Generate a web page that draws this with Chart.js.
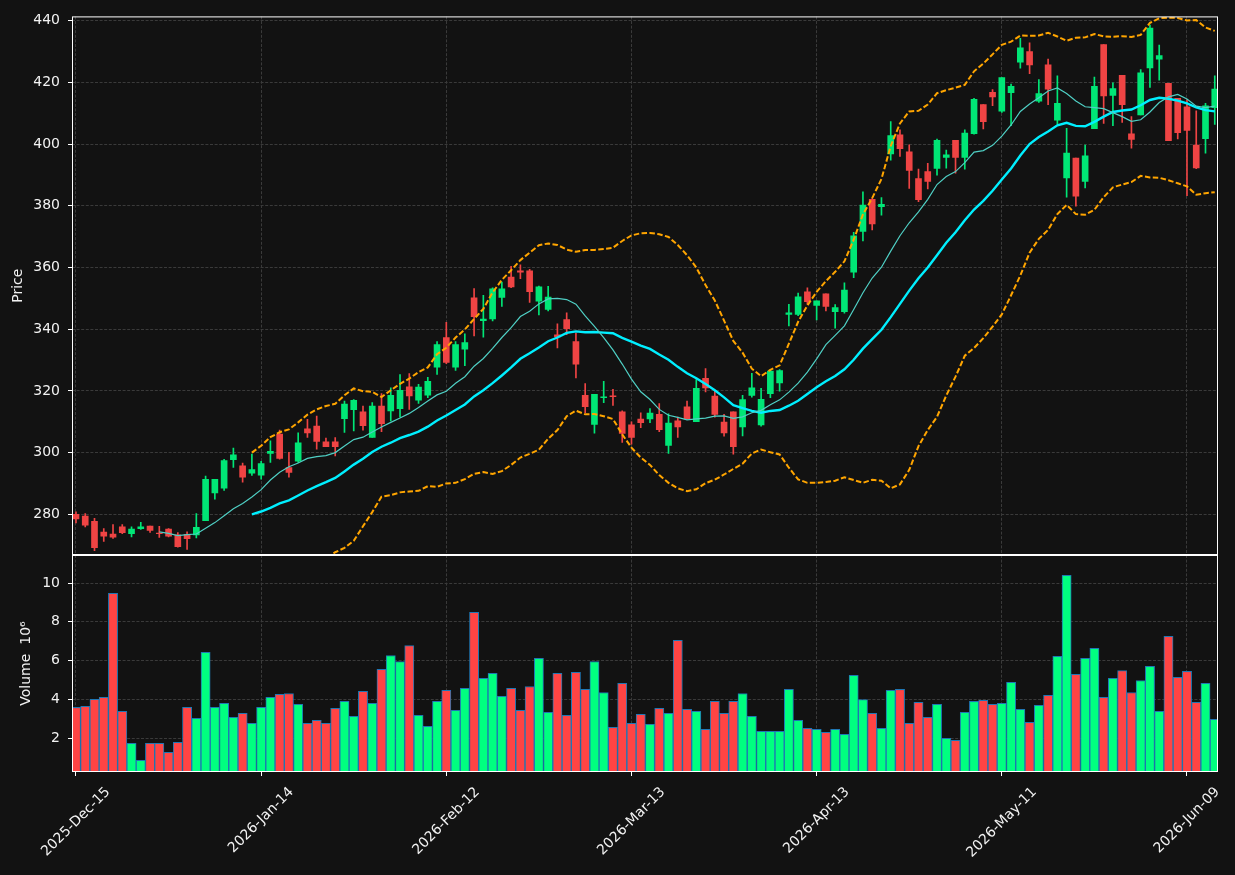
<!DOCTYPE html>
<html>
<head>
<meta charset="utf-8">
<title>Price / Volume</title>
<script src="https://cdn.jsdelivr.net/npm/chart.js"></script>
<style>
  html, body { margin: 0; padding: 0; background: #121212; }
  #wrap { position: relative; width: 1235px; height: 875px; }
  #wrap canvas { position: absolute; left: 0; top: 0; }
</style>
</head>
<body>
<div id="wrap">
  <canvas id="priceChart" width="1235" height="875"></canvas>
  <canvas id="volChart" width="1235" height="875"></canvas>
</div>
<script>
// daily bars, 2025-12-15 .. 2026-06-12 (trading days only), index 0..123
const opens = [280.0,279.4,277.7,274.2,273.6,275.9,273.7,275.3,276.2,273.9,275.2,273.3,273.5,273.3,277.9,286.9,288.5,297.7,295.7,293.3,
  292.7,299.7,306.0,295.1,297.2,307.7,308.6,303.5,303.5,311.0,313.9,313.2,304.9,315.1,313.5,314.2,321.3,317.0,318.6,327.7,
  337.3,327.7,333.5,350.2,342.8,343.3,350.3,356.9,358.9,358.9,349.1,346.4,338.2,343.1,336.0,318.6,309.1,317.8,318.4,313.2,
  309.0,310.9,310.9,312.4,302.3,310.3,314.8,310.0,324.1,318.3,309.9,313.2,308.3,318.5,309.0,319.1,322.6,344.8,344.8,352.1,
  347.7,351.5,345.7,345.7,358.5,371.7,382.1,379.7,396.8,403.0,397.5,388.8,391.1,392.1,395.7,401.2,395.7,403.4,412.8,416.8,
  410.7,416.7,426.6,430.0,413.9,425.7,407.8,389.0,395.5,387.9,405.0,432.3,415.8,422.3,403.3,409.5,424.7,427.5,419.7,414.8,
  412.1,399.7,401.8,411.8];
const highs = [280.8,280.2,278.7,275.4,276.7,276.7,275.9,277.4,276.2,276.1,275.4,274.1,274.3,280.2,292.4,291.3,297.8,301.5,296.6,299.5,
  297.2,303.8,307.3,300.1,306.4,310.8,311.8,304.7,304.9,316.7,317.2,315.1,316.2,319.1,321.0,325.3,325.6,322.1,324.4,336.0,
  342.2,336.0,338.5,353.2,351.0,353.4,355.3,360.4,360.9,359.4,354.0,353.9,341.7,345.3,338.7,322.4,318.9,323.1,320.5,313.5,
  310.0,312.9,314.3,315.9,312.6,311.5,316.7,323.7,327.2,319.9,312.4,313.2,318.6,325.7,320.8,326.9,326.9,348.1,351.7,353.4,
  349.2,351.5,348.0,355.0,371.4,384.5,382.4,382.7,407.3,404.6,399.8,391.9,393.8,401.6,398.1,401.2,404.6,414.8,412.8,417.7,
  421.6,419.5,434.3,432.8,420.9,427.6,422.1,405.1,395.5,399.7,421.7,432.3,419.9,422.3,408.9,424.2,438.6,432.1,419.7,414.8,
  414.4,410.8,413.2,422.1];
const lows = [277.2,275.9,268.2,271.2,272.2,273.7,272.7,275.1,274.1,272.5,272.7,269.3,268.6,272.3,277.9,284.9,287.7,295.2,290.4,292.6,
  291.4,296.8,297.9,292.0,296.8,304.9,301.1,301.9,298.9,306.5,307.0,307.3,304.9,306.8,310.3,311.5,314.0,315.9,317.8,325.3,
  328.8,326.6,328.2,337.8,337.4,342.7,347.4,353.5,356.4,348.7,344.6,345.9,333.9,338.2,324.2,312.9,306.3,316.2,315.3,303.3,
  302.7,308.1,309.7,306.8,299.7,304.9,310.8,310.0,319.7,311.5,305.3,299.5,305.4,318.0,308.6,317.8,319.9,341.1,344.4,348.1,
  343.0,345.9,340.3,345.2,356.7,368.6,372.2,377.0,394.8,396.0,385.6,381.3,385.5,389.9,392.2,390.6,391.9,403.2,404.9,412.5,
  410.3,406.0,424.6,422.8,413.5,412.8,406.5,382.8,379.9,385.8,405.0,406.7,406.0,407.0,398.7,409.5,418.4,420.7,401.1,401.7,
  383.3,392.0,397.1,406.4];
const closes = [278.5,276.5,269.2,272.9,272.6,274.0,275.2,275.9,274.8,273.7,272.9,269.5,272.1,275.8,291.3,291.3,297.4,299.3,292.0,294.5,
  296.4,300.4,298.1,293.6,303.2,306.4,303.6,301.9,301.9,315.7,316.9,308.7,315.1,309.4,318.6,320.2,318.4,321.2,323.1,335.0,
  329.2,335.0,335.7,344.1,343.3,353.1,353.1,353.7,358.5,352.2,353.7,350.4,337.5,340.2,328.7,314.9,318.9,318.1,318.1,306.2,
  304.9,309.7,312.8,307.4,309.6,308.3,310.8,320.8,321.0,312.4,306.4,301.9,317.2,321.0,317.3,326.4,326.6,345.3,350.5,348.9,
  349.2,347.4,347.0,352.7,370.3,380.2,374.1,380.5,402.8,398.5,391.5,382.0,387.9,401.2,396.5,395.7,403.6,414.5,407.3,415.3,
  421.6,418.7,431.2,425.7,416.4,417.8,413.2,397.1,383.1,396.2,418.7,415.6,418.0,412.8,401.5,423.1,437.6,428.7,401.1,403.7,
  404.4,392.3,412.4,417.8];
// volume, millions
const volumes = [3.58,3.64,4.00,4.10,9.47,3.38,1.73,0.85,1.73,1.73,1.26,1.78,3.58,3.02,6.42,3.58,3.79,3.07,3.28,2.76,
  3.58,4.10,4.25,4.30,3.74,2.76,2.91,2.76,3.53,3.89,3.12,4.41,3.79,5.55,6.26,5.95,6.77,3.17,2.60,3.89,
  4.46,3.43,4.56,8.49,5.08,5.34,4.15,4.56,3.43,4.66,6.11,3.33,5.34,3.17,5.39,4.51,5.95,4.35,2.55,4.82,
  2.76,3.22,2.71,3.53,3.28,7.04,3.48,3.38,2.45,3.89,3.28,3.89,4.30,3.12,2.34,2.34,2.34,4.51,2.91,2.50,
  2.45,2.29,2.45,2.19,5.24,3.98,3.28,2.50,4.46,4.51,2.76,3.84,3.07,3.74,1.98,1.88,3.33,3.89,3.95,3.74,
  3.79,4.87,3.48,2.81,3.69,4.20,6.22,10.40,5.29,6.11,6.63,4.10,5.08,5.48,4.35,4.97,5.70,3.38,7.25,5.13,
  5.44,3.84,4.82,2.96];

// overlays (10-day avg, 20-day avg, upper / lower band)
const ma10 = [null,null,null,null,null,null,null,null,null,274.3,273.8,273.1,273.4,273.6,275.5,277.3,279.5,281.8,283.5,285.6,
  288.0,291.1,293.6,295.4,296.6,298.1,298.7,299.0,300.0,302.1,304.2,305.0,306.7,308.3,309.8,311.2,312.7,314.6,316.7,318.7,
  319.9,322.5,324.6,328.0,330.5,333.8,337.3,340.5,344.1,345.8,348.2,349.8,350.0,349.6,348.1,344.3,340.9,337.3,333.3,328.7,
  323.8,319.7,317.2,314.0,312.1,311.4,310.6,310.9,311.2,311.8,311.9,311.1,311.6,312.9,313.7,315.5,317.1,319.6,322.5,326.1,
  330.4,335.0,338.0,341.1,346.4,351.8,356.6,360.1,365.3,370.3,374.5,378.0,382.1,386.9,389.5,391.1,394.0,397.4,397.9,399.6,
  402.6,406.2,410.6,413.0,415.0,417.2,418.2,416.4,414.0,412.1,411.8,411.5,410.2,408.9,407.4,407.9,410.4,413.5,415.3,416.1,
  414.6,412.3,411.8,412.3];
const ma20 = [null,null,null,null,null,null,null,null,null,null,null,null,null,null,null,null,null,null,null,280.0,
  280.9,282.1,283.5,284.5,286.1,287.7,289.1,290.4,291.8,293.9,296.1,298.0,300.2,301.9,303.2,304.7,305.7,306.8,308.4,310.4,
  312.0,313.8,315.6,318.2,320.2,322.5,325.0,327.6,330.4,332.2,334.1,336.1,337.3,338.8,339.3,339.0,339.1,338.9,338.7,337.2,
  336.0,334.7,333.6,331.8,330.1,327.8,325.7,324.1,322.2,320.2,317.9,315.4,314.4,313.5,312.9,313.5,313.8,315.2,316.8,319.0,
  321.2,323.1,324.8,327.0,330.1,333.7,336.8,339.8,343.9,348.2,352.5,356.5,360.0,364.0,368.0,371.4,375.3,378.8,381.6,384.9,
  388.5,392.1,396.3,400.0,402.3,404.1,406.1,406.9,405.9,405.8,407.2,408.9,410.4,410.9,411.2,412.6,414.3,415.0,414.7,414.1,
  413.2,411.9,411.0,410.6];
const bandUpper = [null,null,null,null,null,null,null,null,null,null,null,null,null,null,null,null,null,null,null,300.0,
  302.2,305.0,306.6,307.5,309.8,312.3,314.0,315.1,315.8,318.6,320.8,319.9,319.7,318.0,320.2,322.3,324.0,326.1,327.6,331.9,
  334.0,337.3,339.9,343.3,346.6,351.9,356.0,359.1,362.4,364.8,367.2,367.8,367.3,365.8,365.1,365.7,365.7,366.0,366.4,368.6,
  370.4,371.1,371.2,370.8,369.9,367.3,364.0,360.0,354.3,349.3,342.8,336.2,332.4,327.2,324.8,326.8,328.3,335.3,342.4,347.7,
  352.1,355.6,358.6,362.0,369.0,377.2,382.5,388.7,399.4,406.7,410.6,410.8,412.8,416.5,417.5,418.3,419.2,423.6,426.1,429.1,
  432.2,433.2,435.2,435.1,435.2,436.1,434.9,433.5,434.5,434.6,435.7,434.9,434.8,435.0,434.7,435.4,439.3,440.8,441.0,440.9,
  440.1,440.2,437.8,436.7];
const bandLower = [null,null,null,null,null,null,null,null,null,null,null,null,null,null,null,null,null,null,null,259.9,
  259.6,259.2,260.4,261.6,262.4,263.1,264.2,265.7,267.7,269.1,271.4,276.1,280.7,285.7,286.2,287.1,287.4,287.6,289.1,288.9,
  290.0,290.2,291.4,293.1,293.7,293.1,294.0,296.0,298.4,299.6,300.9,304.5,307.3,311.8,313.6,312.4,312.5,311.8,310.9,305.9,
  301.6,298.4,296.0,292.7,290.2,288.4,287.5,288.1,290.1,291.2,292.9,294.7,296.4,299.7,301.0,300.1,299.4,295.1,291.3,290.2,
  290.2,290.5,290.9,292.0,291.1,290.2,291.2,290.9,288.4,289.7,294.4,302.1,307.3,311.6,318.5,324.6,331.4,333.9,337.1,340.8,
  344.8,351.0,357.4,364.8,369.3,372.2,377.3,380.3,377.3,377.1,378.7,382.8,386.0,386.9,387.7,389.7,389.2,389.1,388.3,387.3,
  386.3,383.6,384.1,384.4];

const tickIdx = [0, 20, 40, 60, 80, 100, 120];
const tickLabels = ['2025-Dec-15', '2026-Jan-14', '2026-Feb-12', '2026-Mar-13', '2026-Apr-13', '2026-May-11', '2026-Jun-09'];
const priceTicks = [280, 300, 320, 340, 360, 380, 400, 420, 440];
const volTicks = [2, 4, 6, 8, 10];

const txt = '#f2f2f2';
const gridCol = '#3a3a3a';
const upCandle = '#00e676', downCandle = '#ef4444';
const upVol = '#00ff80', downVol = '#ff4444';
const X_MIN = -0.43, X_MAX = 123.35;

Chart.defaults.font.family = '"DejaVu Sans", sans-serif';
Chart.defaults.font.size = 14;
Chart.defaults.color = txt;

const idx = closes.map((_, i) => i);
const isUp = idx.map(i => closes[i] >= opens[i]);
const pts = arr => idx.map(i => ({ x: i, y: arr[i] }));

// white box round each panel
const framePlugin = {
  id: 'frame',
  afterDraw(chart) {
    const { ctx, chartArea: a } = chart;
    ctx.save();
    ctx.strokeStyle = '#ffffff';
    ctx.lineWidth = 1;
    ctx.strokeRect(a.left + 0.5, a.top + 0.5, a.right - a.left - 1, a.bottom - a.top - 1);
    ctx.restore();
  }
};

// rotated date labels, centred on the tick like matplotlib does
const xLabelPlugin = {
  id: 'xLabels',
  afterDraw(chart) {
    const { ctx, chartArea: a } = chart;
    const xs = chart.scales.x;
    ctx.save();
    ctx.font = '14px "DejaVu Sans"';
    ctx.fillStyle = txt;
    ctx.textAlign = 'center';
    ctx.textBaseline = 'middle';
    tickIdx.forEach((v, k) => {
      const w = ctx.measureText(tickLabels[k]).width;
      const cy = a.bottom + 13 + (w + 14) / (2 * Math.SQRT2);
      ctx.save();
      ctx.translate(xs.getPixelForValue(v), cy);
      ctx.rotate(-Math.PI / 4);
      ctx.fillText(tickLabels[k], 0, 0);
      ctx.restore();
    });
    ctx.restore();
  }
};

function xScale(showTicks) {
  return {
    type: 'linear', min: X_MIN, max: X_MAX, offset: false,
    afterBuildTicks: s => { s.ticks = tickIdx.map(v => ({ value: v })); },
    afterFit: s => { s.height = 0; },
    ticks: { display: false },
    grid: { offset: false, color: gridCol, lineWidth: 1, drawTicks: showTicks, tickLength: 4, tickColor: '#ffffff', tickBorderDash: [1, 0] },
    border: { display: false, dash: [3, 1.6] }
  };
}

function yScale(min, max, tickVals, title, titlePad) {
  return {
    min: min, max: max,
    afterBuildTicks: s => { s.ticks = tickVals.map(v => ({ value: v })); },
    afterFit: s => { s.width = 72; },
    ticks: { padding: 8, color: txt },
    grid: { color: gridCol, lineWidth: 1, tickLength: 4, tickColor: '#ffffff', tickBorderDash: [1, 0] },
    border: { display: false, dash: [3, 1.6] },
    title: { display: true, text: title, color: txt, font: { size: 14 }, padding: { top: titlePad, bottom: 0 } }
  };
}

new Chart(document.getElementById('priceChart'), {
  type: 'bar',
  data: {
    datasets: [
      { type: 'line', data: pts(ma10), borderColor: '#4fcfc4', borderWidth: 1.2, pointRadius: 0, order: 0 },
      { type: 'line', data: pts(ma20), borderColor: '#00efff', borderWidth: 2.4, pointRadius: 0, order: 0 },
      { type: 'line', data: pts(bandUpper), borderColor: '#ffa500', borderWidth: 2, borderDash: [5.5, 2.4], pointRadius: 0, order: 0 },
      { type: 'line', data: pts(bandLower), borderColor: '#ffa500', borderWidth: 2, borderDash: [5.5, 2.4], pointRadius: 0, order: 0 },
      // wicks
      { data: idx.map(i => ({ x: i, y: [lows[i], highs[i]] })), backgroundColor: idx.map(i => isUp[i] ? upCandle : downCandle),
        barThickness: 1, grouped: false, order: 2 },
      // bodies
      { data: idx.map(i => ({ x: i, y: [opens[i], closes[i]] })), backgroundColor: idx.map(i => isUp[i] ? upCandle : downCandle),
        barThickness: 6, grouped: false, order: 1 }
    ]
  },
  options: {
    responsive: false, animation: false, devicePixelRatio: 1,
    layout: { padding: { left: 0, right: 17, top: 12, bottom: 320 } },
    plugins: { legend: { display: false }, tooltip: { enabled: false } },
    scales: { x: xScale(false), y: yScale(266.8, 441.4, priceTicks, 'Price', 9.6) }
  },
  plugins: [framePlugin]
});

new Chart(document.getElementById('volChart'), {
  type: 'bar',
  data: {
    datasets: [
      { data: idx.map(i => ({ x: i, y: volumes[i] })), backgroundColor: idx.map(i => isUp[i] ? upVol : downVol),
        borderColor: '#1f77b4', borderWidth: 1, borderSkipped: false, barThickness: 9.2, grouped: false }
    ]
  },
  options: {
    responsive: false, animation: false, devicePixelRatio: 1,
    layout: { padding: { left: 0, right: 17, top: 555, bottom: 103 } },
    plugins: { legend: { display: false }, tooltip: { enabled: false } },
    scales: { x: xScale(true), y: yScale(0.245, 11.45, volTicks, 'Volume  10\u2076', 17.6) }
  },
  plugins: [framePlugin, xLabelPlugin]
});
</script>
</body>
</html>
